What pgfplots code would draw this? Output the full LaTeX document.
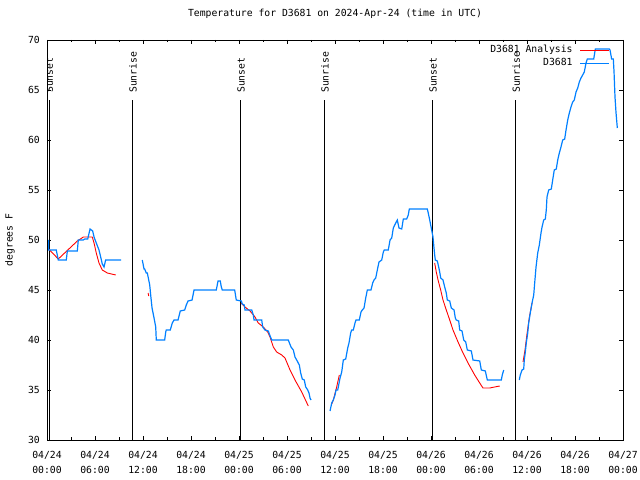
\documentclass[border=0pt]{standalone}
\usepackage{fontspec}
\setmainfont{DejaVu Sans Mono}
\usepackage{pgfplots}
\pgfplotsset{compat=1.18}
\definecolor{dblue}{RGB}{0,128,255}
\begin{document}
\fontsize{9.8}{12}\selectfont
\begin{tikzpicture}
\useasboundingbox (0,0) rectangle (640bp,480bp);
\fill[white] (0,0) rectangle (640bp,480bp);
\begin{axis}[
  at={(47bp,40bp)}, anchor=south west,
  scale only axis, width=576bp, height=400bp,
  xmin=0, xmax=72, ymin=30, ymax=70,
  xtick={0,6,...,72},
  xticklabels={{04/24\\00:00},{04/24\\06:00},{04/24\\12:00},{04/24\\18:00},{04/25\\00:00},{04/25\\06:00},{04/25\\12:00},{04/25\\18:00},{04/26\\00:00},{04/26\\06:00},{04/26\\12:00},{04/26\\18:00},{04/27\\00:00}},
  minor x tick num=1,
  ytick={30,35,...,70},
  tick align=inside,
  major tick length=4bp, minor tick length=2.5bp,
  every tick/.style={black, line width=0.8bp},
  axis line style={line width=0.8bp},
  /pgf/number format/assume math mode=true,
  tick label style={font=\fontsize{9.8}{15}\selectfont},
  xticklabel style={align=center, inner sep=0pt, anchor=north, yshift=-11bp},
  yticklabel style={inner sep=0pt, anchor=east, xshift=-7bp},
  title={Temperature for D3681 on 2024-Apr-24 (time in UTC)},
  title style={at={(rel axis cs:0.5,1)}, anchor=center, yshift=20bp, font=\fontsize{9.8}{12}\selectfont},
  ylabel={degrees F},
  ylabel style={at={(axis description cs:-0.0642,0.5)}, anchor=center, font=\fontsize{9.8}{12}\selectfont},
  unbounded coords=jump,
  legend style={at={(rel axis cs:1,1)}, anchor=north east, xshift=-13bp, yshift=-5bp, draw=none, fill=none, inner sep=0pt, row sep=3bp, column sep=7bp, nodes={inner sep=0pt, text height=7.5bp, text depth=2.5bp}, font=\fontsize{9.8}{12}\selectfont},
  legend cell align=right,
  legend plot pos=right,
  legend image code/.code={\draw[#1] (0bp,0bp) -- (29bp,0bp);},
]
% sunrise / sunset lines
\addplot[black, line width=0.8bp, forget plot] coordinates {(0.25,30) (0.25,64) (1,nan) (10.7,30) (10.7,64) (11,nan) (24.2,30) (24.2,64) (25,nan) (34.7,30) (34.7,64) (35,nan) (48.2,30) (48.2,64) (49,nan) (58.6,30) (58.6,64)};
\node[rotate=90, anchor=west, inner sep=0pt] at (axis cs:0.3,64.7) {Sunset};
\node[rotate=90, anchor=west, inner sep=0pt] at (axis cs:10.75,64.7) {Sunrise};
\node[rotate=90, anchor=west, inner sep=0pt] at (axis cs:24.25,64.7) {Sunset};
\node[rotate=90, anchor=west, inner sep=0pt] at (axis cs:34.75,64.7) {Sunrise};
\node[rotate=90, anchor=west, inner sep=0pt] at (axis cs:48.25,64.7) {Sunset};
\node[rotate=90, anchor=west, inner sep=0pt] at (axis cs:58.65,64.7) {Sunrise};
% Analysis (red)
\addplot[red, line width=0.9bp] coordinates {
(0.21,49.1) (1.41,48.1) (3.79,49.9) (4.54,50.3) (5.66,50.3) (5.88,49.7) (6.16,48.7) (6.5,47.7) (6.91,47.0) (7.54,46.7) (8.59,46.5)
(10,nan)
(12.64,44.7) (12.72,44.4)
(13,nan)
(24.25,43.7) (24.75,43.3) (25.38,42.9) (26.0,42.3) (26.41,41.7) (27.04,41.3) (27.59,40.8) (27.88,40.3) (28.29,39.3) (28.71,38.8) (29.34,38.5) (29.75,38.2) (30.38,37.0) (31.0,36.0) (31.84,34.8) (32.66,33.4)
(34,nan)
(35.59,33.6) (35.79,34.0) (36.21,35.3) (36.54,36.5)
(37,nan)
(48.46,47.7) (48.66,46.8) (48.88,46.0) (49.21,45.0) (49.5,44.0) (49.91,43.0) (50.34,42.0) (50.75,41.0) (51.38,39.8) (52.0,38.7) (52.63,37.7) (53.46,36.5) (54.09,35.7) (54.5,35.2) (55.34,35.2) (55.96,35.3) (56.59,35.4)
(58,nan)
(59.5,37.8) (59.75,39.0) (60.0,40.6) (60.3,42.3) (60.63,43.7)
};
\addlegendentry{D3681 Analysis}
% observations (blue)
\addplot[dblue, line width=1.2bp] coordinates {
(0.2,50.0) (0.2,49.0) (1.16,49.0) (1.41,48.0) (2.41,48.0) (2.54,48.9) (3.79,48.9) (3.91,50.0) (4.54,50.0) (4.71,50.1) (5.09,50.1) (5.38,51.1) (5.71,50.9) (5.88,50.3) (6.16,49.7) (6.5,49.0) (6.71,48.3) (6.91,47.6) (7.13,47.3) (7.33,48.0) (9.25,48.0)
(10,nan)
(11.91,48.0) (12.13,47.1) (12.21,47.1) (12.41,46.7) (12.54,46.7) (12.84,45.5) (12.96,44.5) (13.13,43.2) (13.38,42.2) (13.59,41.3) (13.66,40.0) (14.71,40.0) (14.84,40.8) (14.91,41.0) (15.41,41.0) (15.66,41.7) (15.88,42.0) (16.38,42.0) (16.66,42.9) (17.21,43.0) (17.41,43.5) (17.63,43.9) (18.13,44.0) (18.38,45.0) (21.16,45.0) (21.38,45.9) (21.66,45.9) (21.79,45.3) (21.91,45.0) (23.46,45.0) (23.66,44.0) (24.29,43.9) (24.41,43.6) (24.66,43.5) (24.75,43.0) (25.59,43.0) (25.79,42.5) (25.88,42.0) (26.84,42.0) (26.96,41.3) (27.25,41.0) (27.66,40.9) (27.84,40.5) (28.09,40.0) (30.16,40.0) (30.5,39.3) (30.79,39.0) (31.0,38.3) (31.21,38.0) (31.54,37.5) (31.71,36.7) (31.91,36.1) (32.16,36.0) (32.34,35.3) (32.59,35.0) (32.75,34.7) (32.88,34.2) (33.0,34.0)
(34,nan)
(35.38,32.9) (35.59,33.7) (35.79,34.0) (36.0,34.5) (36.13,35.0) (36.34,35.0) (36.63,36.2) (36.84,36.8) (37.04,38.0) (37.34,38.1) (37.59,39.2) (37.75,39.7) (37.96,40.7) (38.09,41.0) (38.29,41.0) (38.5,41.7) (38.63,42.0) (39.04,42.0) (39.25,42.8) (39.41,43.0) (39.63,43.2) (39.84,44.2) (40.04,45.0) (40.5,45.0) (40.71,45.7) (40.88,46.0) (41.09,46.2) (41.29,47.0) (41.5,47.8) (41.84,48.0) (42.04,48.8) (42.16,49.0) (42.66,49.0) (42.88,50.0) (43.09,50.2) (43.29,51.2) (43.59,51.7) (43.79,52.0) (44.0,51.2) (44.34,51.1) (44.54,52.1) (44.96,52.1) (45.16,52.5) (45.29,53.1) (47.54,53.1)
(47.63,52.8) (47.84,52.0) (47.96,51.5) (48.13,50.8) (48.25,50.3) (48.34,49.5) (48.46,48.5) (48.54,48.0) (48.79,47.9) (48.96,47.3) (49.09,46.8) (49.21,46.2) (49.5,46.0) (49.71,45.3) (49.91,44.7) (50.04,44.0) (50.34,43.9) (50.54,43.2) (50.88,43.0) (51.04,42.2) (51.16,42.0) (51.46,41.9) (51.59,41.0) (51.88,40.9) (52.09,40.0) (52.34,39.8) (52.54,39.0) (53.04,38.9) (53.25,38.0) (54.09,37.9) (54.29,37.0) (54.79,36.9) (55.04,36.0) (56.79,36.0) (56.91,36.5) (57.09,37.0)
(58,nan)
(59.04,36.0) (59.16,36.5) (59.38,37.0) (59.59,37.1) (59.66,38.0) (59.79,38.8) (59.91,39.7) (60.09,40.7) (60.21,41.7) (60.41,42.7) (60.63,43.7) (60.84,44.5) (60.96,45.7) (61.13,47.3) (61.34,48.7) (61.54,49.5) (61.75,50.7) (61.88,51.3) (62.09,52.0) (62.29,52.1) (62.41,53.0) (62.5,54.3) (62.71,55.0) (63.04,55.1) (63.21,56.0) (63.41,57.0) (63.66,57.1) (63.84,58.0) (64.04,58.7) (64.25,59.3) (64.46,60.0) (64.71,60.1) (64.88,61.0) (65.09,62.0) (65.29,62.7) (65.5,63.3) (65.71,63.8) (65.91,64.0) (66.13,64.8) (66.34,65.2) (66.54,65.8) (66.75,66.2) (66.96,66.5) (67.16,66.8) (67.38,67.7) (67.54,68.1) (68.34,68.1) (68.54,69.1) (70.29,69.1) (70.38,69.0) (70.58,68.1) (70.79,68.1) (70.88,66.8) (71.0,64.3) (71.13,62.7) (71.29,61.2)
};
\addlegendentry{D3681}
\end{axis}
\end{tikzpicture}
\end{document}
